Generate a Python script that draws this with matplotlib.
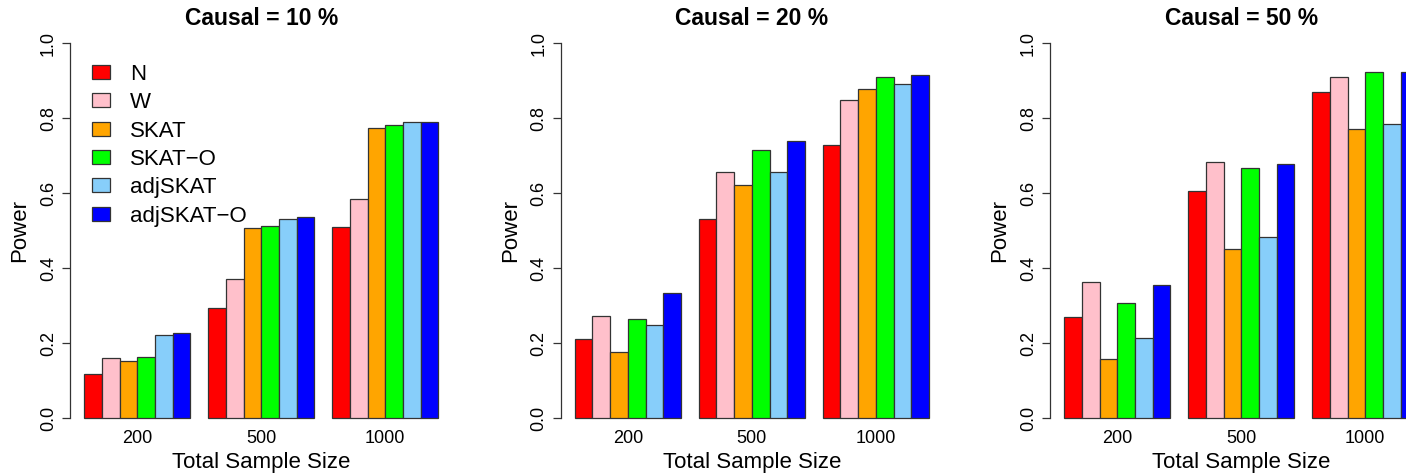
import numpy as np
import matplotlib
matplotlib.use('Agg')
import matplotlib.pyplot as plt
from matplotlib.patches import Patch

plt.rcParams['font.family'] = ['Liberation Sans', 'DejaVu Sans']

sizes = ['200', '500', '1000']
methods = ['N', 'W', 'SKAT', 'SKAT\u2212O', 'adjSKAT', 'adjSKAT\u2212O']
colors = ['#FF0000', '#FFC0CB', '#FFA500', '#00FF00', '#87CEFA', '#0000FF']
titles = ['Causal = 10 %', 'Causal = 20 %', 'Causal = 50 %']

# power per method, one value per sample size
causal10 = [
    [0.118, 0.294, 0.509],
    [0.161, 0.371, 0.586],
    [0.152, 0.507, 0.775],
    [0.164, 0.512, 0.781],
    [0.222, 0.532, 0.789],
    [0.228, 0.536, 0.791],
]
causal20 = [
    [0.212, 0.532, 0.730],
    [0.274, 0.658, 0.849],
    [0.177, 0.622, 0.879],
    [0.266, 0.716, 0.911],
    [0.249, 0.656, 0.892],
    [0.333, 0.740, 0.916],
]
causal50 = [
    [0.269, 0.607, 0.870],
    [0.364, 0.684, 0.910],
    [0.157, 0.452, 0.772],
    [0.308, 0.668, 0.923],
    [0.214, 0.484, 0.786],
    [0.356, 0.678, 0.924],
]
panels = [causal10, causal20, causal50]

W, H = 1406, 473
fig = plt.figure(figsize=(W / 100, H / 100), dpi=100)

ax_w = 382.6
ax_b = 473 - 433.3
ax_h = 405
lefts = [70, 560.5, 1050]

for p in range(3):
    ax = fig.add_axes([lefts[p] / W, ax_b / H, ax_w / W, ax_h / H])
    data = panels[p]
    for j in range(6):
        x = 1.5 + 7 * np.arange(3) + j
        ax.bar(x, data[j], width=1.0, color=colors[j], edgecolor='#333333',
               linewidth=0.9, label=methods[j])
    ax.set_xlim(0.2, 21.8)
    ax.set_ylim(-0.04, 1.04)
    for s in ['top', 'right', 'bottom']:
        ax.spines[s].set_visible(False)
    ax.spines['left'].set_bounds(0, 1)
    ax.spines['left'].set_color('#333333')
    ax.spines['left'].set_linewidth(0.9)
    yt = [0, 0.2, 0.4, 0.6, 0.8, 1.0]
    ax.set_yticks(yt)
    ax.set_yticklabels(['%.1f' % v for v in yt], rotation=90, va='center',
                       fontsize=13)
    ax.tick_params(axis='y', length=6, width=0.9, color='#333333', pad=3.5)
    ax.set_xticks(4 + 7 * np.arange(3))
    ax.set_xticklabels(sizes, fontsize=13)
    ax.tick_params(axis='x', length=0, pad=-2.5)
    ax.set_xlabel('Total Sample Size', fontsize=16, va='center')
    ax.xaxis.set_label_coords(0.5, (433.3 - 462) / ax_h)
    ax.set_ylabel('Power', fontsize=16, va='center')
    ax.yaxis.set_label_coords((20 - 70) / ax_w, 0.5)
    ax.text(0.5, (433.3 - 19) / ax_h, titles[p], transform=ax.transAxes,
            ha='center', va='center', fontsize=16.5, fontweight='bold')
    if p == 0:
        handles = [Patch(facecolor=c, edgecolor='#333333', linewidth=0.9)
                   for c in colors]
        ax.legend(handles, methods, loc='upper left',
                  bbox_to_anchor=(0.057, 0.912), frameon=False, fontsize=16,
                  handlelength=0.82, handleheight=0.6, handletextpad=0.9,
                  labelspacing=0.33, borderpad=0, borderaxespad=0)

fig.savefig('out.png', dpi=100)
